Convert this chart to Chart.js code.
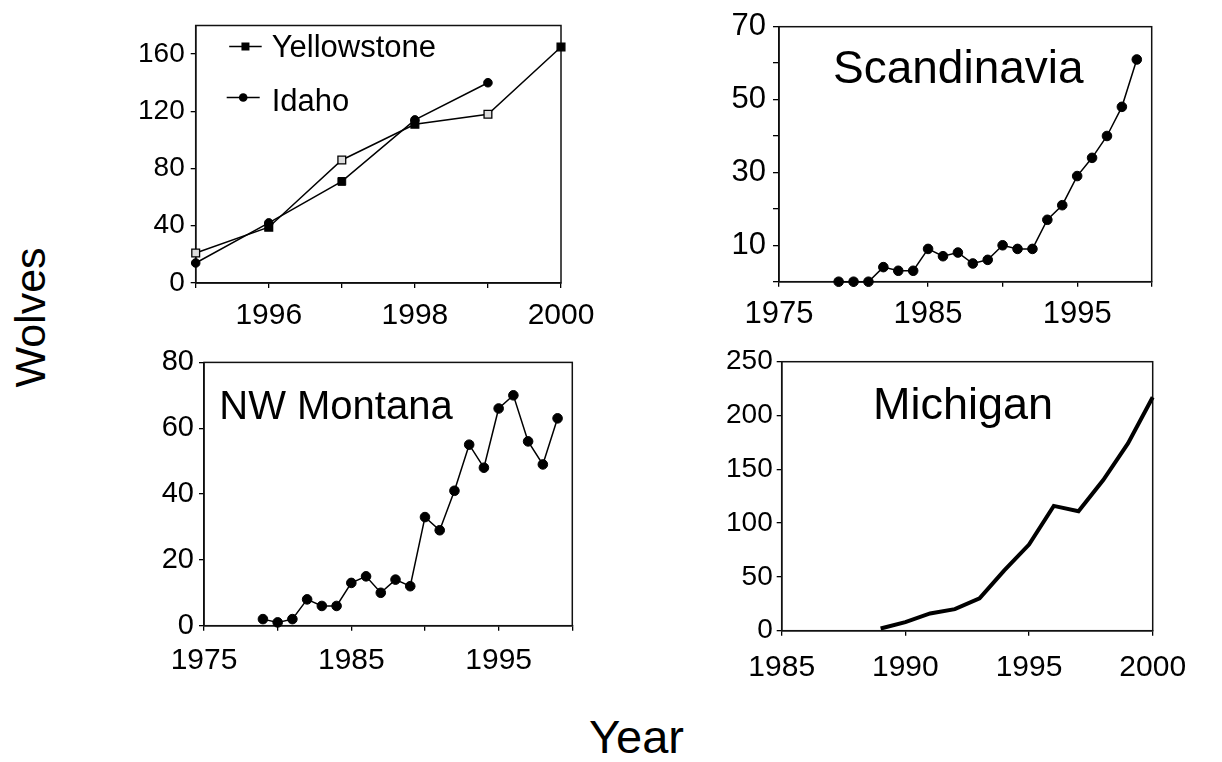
<!DOCTYPE html>
<html>
<head>
<meta charset="utf-8">
<title>Wolves</title>
<script src="https://cdn.jsdelivr.net/npm/chart.js@4.4.1/dist/chart.umd.min.js"></script>
<style>
  body { margin: 0; background: #fff; width: 1222px; height: 762px; overflow: hidden; position: relative;
         font-family: "Liberation Sans", Arial, sans-serif; color: #000; }
  .panel { position: absolute; }
  #wolvesLabel { position: absolute; left: -70px; top: 296px; width: 200px; height: 43px; line-height: 43px;
                 font-size: 43px; text-align: center; transform: rotate(-90deg); }
  #yearLabel { position: absolute; left: 589px; top: 713px; font-size: 47px; line-height: 47px; }
</style>
</head>
<body>
<div class="panel" style="left:100px;top:0;width:540px;height:340px"><canvas id="chartYellowstone"></canvas></div>
<div class="panel" style="left:660px;top:0;width:562px;height:340px"><canvas id="chartScandinavia"></canvas></div>
<div class="panel" style="left:100px;top:340px;width:540px;height:340px"><canvas id="chartMontana"></canvas></div>
<div class="panel" style="left:660px;top:340px;width:562px;height:340px"><canvas id="chartMichigan"></canvas></div>
<div id="wolvesLabel">Wolves</div>
<div id="yearLabel">Year</div>

<script>
// wolf counts
const yearsYellowstone = [1995, 1996, 1997, 1998, 1999, 2000];
const wolvesYellowstone = [21, 39, 86, 111, 118, 165];
const yearsIdaho = [1995, 1996, 1997, 1998, 1999];
const wolvesIdaho = [14, 42, 71, 114, 140];

const yearsScandinavia = [1979, 1980, 1981, 1982, 1983, 1984, 1985, 1986, 1987, 1988, 1989,
                          1990, 1991, 1992, 1993, 1994, 1995, 1996, 1997, 1998, 1999];
const wolvesScandinavia = [0, 0, 0, 4, 3, 3, 9, 7, 8, 5, 6, 10, 9, 9, 17, 21, 29, 34, 40, 48, 61];

const yearsMontana = [1979, 1980, 1981, 1982, 1983, 1984, 1985, 1986, 1987, 1988, 1989,
                      1990, 1991, 1992, 1993, 1994, 1995, 1996, 1997, 1998, 1999];
const wolvesMontana = [2, 1, 2, 8, 6, 6, 13, 15, 10, 14, 12, 33, 29, 41, 55, 48, 66, 70, 56, 49, 63];

const yearsMichigan = [1989, 1990, 1991, 1992, 1993, 1994, 1995, 1996, 1997, 1998, 1999, 2000];
const wolvesMichigan = [2, 8, 16, 20, 30, 56, 80, 116, 111, 140, 174, 217];

// tick positions and which of them get a label
const xTicksYellowstone = [1995, 1996, 1997, 1998, 1999, 2000];
const xLabelsYellowstone = [1996, 1998, 2000];
const yTicksYellowstone = [0, 40, 80, 120, 160];
const xTicksLong = [1975, 1980, 1985, 1990, 1995, 2000];
const xLabelsLong = [1975, 1985, 1995];
const yTicksScandinavia = [0, 10, 20, 30, 40, 50, 60, 70];
const yLabelsScandinavia = [10, 30, 50, 70];
const yTicksMontana = [0, 20, 40, 60, 80];
const xTicksMichigan = [1985, 1990, 1995, 2000];
const yTicksMichigan = [0, 50, 100, 150, 200, 250];

// marker look of the two series in the first panel
const ysFill = ['#ddd', '#000', '#ddd', '#000', '#ddd', '#000'];
const idStyle = ['circle', 'circle', 'rect', 'circle', 'circle'];
const idRadius = [4.3, 4.3, 5.5, 4.3, 4.3];

const FONT = '"Liberation Sans", Arial, sans-serif';
Chart.defaults.font.family = FONT;
Chart.defaults.color = '#000';

function points(xs, ys) {
    return xs.map((x, i) => ({ x: x, y: ys[i] }));
}

// frame around the plot area
const boxPlugin = {
    id: 'box',
    beforeDatasetsDraw(chart) {
        const a = chart.chartArea, ctx = chart.ctx;
        ctx.save();
        ctx.strokeStyle = '#111';
        ctx.lineWidth = 1.5;
        ctx.strokeRect(a.left, a.top, a.right - a.left, a.bottom - a.top);
        ctx.restore();
    }
};

// region name written inside the plot
const panelTitle = {
    id: 'panelTitle',
    afterDraw(chart, args, opts) {
        if (!opts.text) return;
        const a = chart.chartArea, ctx = chart.ctx;
        ctx.save();
        ctx.font = opts.size + 'px ' + FONT;
        ctx.fillStyle = '#000';
        ctx.textAlign = 'left';
        ctx.textBaseline = 'alphabetic';
        ctx.fillText(opts.text, a.left + opts.dx, a.top + opts.dy);
        ctx.restore();
    }
};

// legend placed in the upper left of the plot
const innerLegend = {
    id: 'innerLegend',
    afterDraw(chart, args, opts) {
        if (!opts.rows) return;
        const a = chart.chartArea, ctx = chart.ctx;
        chart.data.datasets.forEach((ds, i) => {
            const row = opts.rows[i];
            const y = a.top + row.dy;
            const x0 = a.left + row.x0, x1 = a.left + row.x1, xm = (x0 + x1) / 2;
            ctx.save();
            ctx.strokeStyle = '#000';
            ctx.fillStyle = '#000';
            ctx.lineWidth = 1.5;
            ctx.beginPath();
            ctx.moveTo(x0, y);
            ctx.lineTo(x1, y);
            ctx.stroke();
            ctx.beginPath();
            if (row.marker === 'rect') ctx.rect(xm - 4, y - 4, 8, 8);
            else ctx.arc(xm, y, 4.3, 0, Math.PI * 2);
            ctx.fill();
            ctx.font = opts.size + 'px ' + FONT;
            ctx.textBaseline = 'alphabetic';
            ctx.fillText(ds.label, a.left + opts.textX, a.top + row.base);
            ctx.restore();
        });
    }
};

function axisX(c) {
    return {
        type: 'linear', position: 'bottom', min: c.min, max: c.max,
        afterBuildTicks: s => { s.ticks = c.ticks.map(v => ({ value: v })); },
        afterFit: s => { s.height = c.height; },
        ticks: {
            autoSkip: false, maxRotation: 0, padding: c.pad, font: { size: c.font },
            callback: v => c.labels.includes(v) ? String(v) : ''
        },
        grid: { drawOnChartArea: false, drawTicks: true, tickLength: c.tick, color: '#000', lineWidth: 1.3 },
        border: { display: true, color: '#000', width: 1.5 }
    };
}

function axisY(c) {
    return {
        type: 'linear', position: 'left', min: c.min, max: c.max,
        afterBuildTicks: s => { s.ticks = c.ticks.map(v => ({ value: v })); },
        afterFit: s => { s.width = c.width; },
        ticks: {
            autoSkip: false, padding: c.pad, font: { size: c.font },
            callback: v => c.labels.includes(v) ? String(v) : ''
        },
        grid: { drawOnChartArea: false, drawTicks: true, tickLength: c.tick, color: '#000', lineWidth: 1.3 },
        border: { display: true, color: '#000', width: 1.5 }
    };
}

function renderPanel(id, cfg) {
    const ctx = document.getElementById(id).getContext('2d');
    return new Chart(ctx, {
        type: 'line',
        data: { datasets: cfg.datasets },
        options: {
            responsive: true,
            maintainAspectRatio: false,
            animation: false,
            devicePixelRatio: 1,
            layout: { padding: cfg.padding },
            plugins: {
                legend: { display: false },
                tooltip: { enabled: false },
                panelTitle: cfg.title || {},
                innerLegend: cfg.legend || {}
            },
            scales: { x: axisX(cfg.x), y: axisY(cfg.y) }
        },
        plugins: [boxPlugin, panelTitle, innerLegend]
    });
}

// Yellowstone and Idaho
renderPanel('chartYellowstone', {
    padding: { top: 25.5, right: 79, bottom: 0, left: 0 },
    x: { min: 1995, max: 2000, ticks: xTicksYellowstone, labels: xLabelsYellowstone, height: 57, pad: 10, tick: 5, font: 30 },
    y: { min: 0, max: 180, ticks: yTicksYellowstone, labels: yTicksYellowstone, width: 95.7, pad: 6, tick: 5, font: 28 },
    legend: {
        size: 31, textX: 76,
        rows: [
            { x0: 33.5, x1: 66, dy: 21, base: 31.5, marker: 'rect' },
            { x0: 31, x1: 64, dy: 72, base: 85.5, marker: 'circle' }
        ]
    },
    datasets: [
        {
            label: 'Yellowstone', data: points(yearsYellowstone, wolvesYellowstone),
            borderColor: '#000', borderWidth: 1.5, clip: false,
            pointStyle: 'rect', pointRadius: 5.5, pointBackgroundColor: ysFill,
            pointBorderColor: '#000', pointBorderWidth: 1.3
        },
        {
            label: 'Idaho', data: points(yearsIdaho, wolvesIdaho),
            borderColor: '#000', borderWidth: 1.5, clip: false,
            pointStyle: idStyle, pointRadius: idRadius, pointBackgroundColor: '#000',
            pointBorderColor: '#000', pointBorderWidth: 1
        }
    ]
});

// Scandinavia
renderPanel('chartScandinavia', {
    padding: { top: 26.7, right: 70.3, bottom: 0, left: 0 },
    x: { min: 1975, max: 2000, ticks: xTicksLong, labels: xLabelsLong, height: 58.3, pad: 9.5, tick: 5, font: 31 },
    y: { min: 0, max: 70, ticks: yTicksScandinavia, labels: yLabelsScandinavia, width: 119, pad: 7, tick: 6, font: 31 },
    title: { text: 'Scandinavia', size: 46, dx: 54, dy: 56 },
    datasets: [{
        label: 'Scandinavia', data: points(yearsScandinavia, wolvesScandinavia),
        borderColor: '#000', borderWidth: 1.5, clip: false,
        pointRadius: 4.8, pointBackgroundColor: '#000', pointBorderColor: '#000', pointBorderWidth: 1
    }]
});

// NW Montana
renderPanel('chartMontana', {
    padding: { top: 18.3, right: 67.7, bottom: 0, left: 0 },
    x: { min: 1975, max: 2000, ticks: xTicksLong, labels: xLabelsLong, height: 54.3, pad: 11.7, tick: 5, font: 30 },
    y: { min: 0, max: 80, ticks: yTicksMontana, labels: yTicksMontana, width: 104, pad: 5, tick: 5, font: 29 },
    title: { text: 'NW Montana', size: 40, dx: 15.3, dy: 56.7 },
    datasets: [{
        label: 'NW Montana', data: points(yearsMontana, wolvesMontana),
        borderColor: '#000', borderWidth: 1.5, clip: false,
        pointRadius: 4.8, pointBackgroundColor: '#000', pointBorderColor: '#000', pointBorderWidth: 1
    }]
});

// Michigan
renderPanel('chartMichigan', {
    padding: { top: 21.7, right: 69.3, bottom: 0, left: 0 },
    x: { min: 1985, max: 2000, ticks: xTicksMichigan, labels: xTicksMichigan, height: 49.3, pad: 13.7, tick: 5, font: 30 },
    y: { min: 0, max: 250, ticks: yTicksMichigan, labels: yTicksMichigan, width: 121.7, pad: 4, tick: 5, font: 28 },
    title: { text: 'Michigan', size: 45, dx: 91.3, dy: 57.6 },
    datasets: [{
        label: 'Michigan', data: points(yearsMichigan, wolvesMichigan),
        borderColor: '#000', borderWidth: 4, clip: false, pointRadius: 0
    }]
});
</script>
</body>
</html>
